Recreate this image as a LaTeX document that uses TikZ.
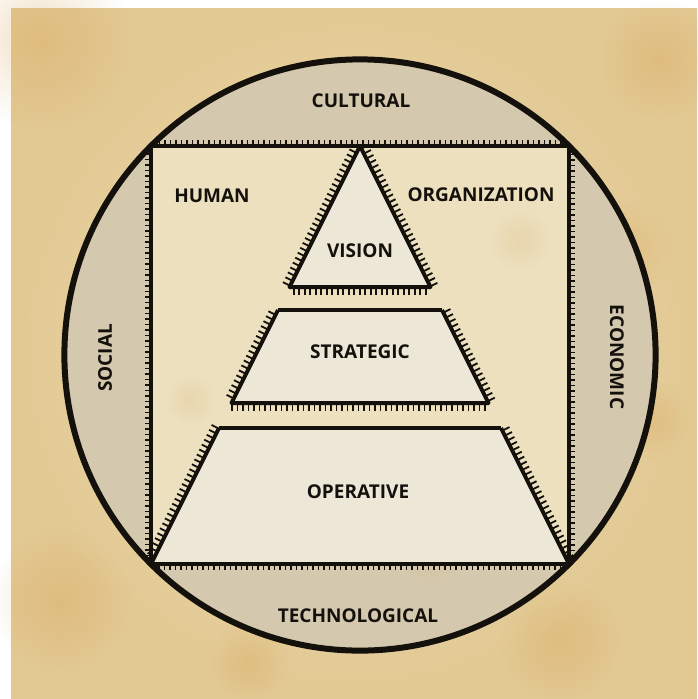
\documentclass[tikz,border=0pt]{standalone}
\usepackage{fontspec}
\setmainfont{Open Sans}
\usetikzlibrary{decorations.markings,fadings}

\definecolor{paper}{RGB}{233,214,168}
\definecolor{paperlight}{RGB}{238,226,192}
\definecolor{paperdark}{RGB}{226,200,146}
\definecolor{segment}{RGB}{212,201,174}
\definecolor{inner}{RGB}{236,224,190}
\definecolor{block}{RGB}{237,231,215}
\definecolor{stain}{RGB}{218,168,90}
\definecolor{ink}{RGB}{20,16,12}

\tikzfading[name=spot, inner color=transparent!65, outer color=transparent!100]

\tikzset{
  outline/.style={draw=ink, line width=4pt, line join=round},
  ticked/.style={postaction={decorate},
    decoration={markings,
      mark=between positions 3pt and 1 step 5.5pt with
        {\draw[ink, line width=1.8pt] (0,0) -- (0,#1);}}},
  ticked/.default=6pt,
  label/.style={font=\bfseries\fontsize{19}{21}\selectfont, text=ink, inner sep=0pt},
}

\begin{document}
\begin{tikzpicture}[x=1pt, y=-1pt]
  \useasboundingbox (0,0) rectangle (697,699);
  \fill[white] (0,0) rectangle (697,699);

  % parchment ground with a soft vignette and a few stains
  \shade[inner color=paperlight, outer color=paperdark] (11,8) rectangle (697,699);
  \foreach \x/\y/\r in {40/40/90, 660/60/60, 620/250/50, 560/640/60, 60/600/70,
                        250/660/40, 650/420/40, 120/300/35}
    \fill[stain, path fading=spot] (\x,\y) circle (\r);

  % circle of environments and the inner square
  \fill[segment] (360,355) circle (295.6);
  \fill[inner] (151,146) rectangle (569,564);
  \foreach \x/\y/\r in {520/240/30, 430/560/25, 190/400/25}
    \fill[stain, opacity=0.5, path fading=spot] (\x,\y) circle (\r);
  \draw[ink, line width=6pt] (360,355) circle (295.6);
  \draw[outline, line width=3.5pt, ticked=6pt]
    (151,146) -- (569,146) -- (569,564) -- (151,564) -- cycle;

  % pyramid levels
  \fill[block] (360,146) -- (430.5,287) -- (289.5,287) -- cycle;
  \fill[block] (278,310) -- (442,310) -- (488.5,403) -- (231.5,403) -- cycle;
  \fill[block] (219,428) -- (501,428) -- (569,564) -- (151,564) -- cycle;

  \draw[outline, ticked=8pt] (360,146) -- (430.5,287) -- (289.5,287) -- cycle;
  \draw[outline] (278,310) -- (442,310);
  \draw[outline, ticked=8pt] (442,310) -- (488.5,403) -- (231.5,403) -- (278,310);
  \draw[outline] (219,428) -- (501,428);
  \draw[outline, ticked=8pt] (501,428) -- (569,564);
  \draw[outline, ticked=8pt] (151,564) -- (219,428);
  \draw[outline] (151,564) -- (569,564);

  % labels
  \node[label] (cultural) at (361,101) {CULTURAL};
  \node[label] (technological) at (358,616) {TECHNOLOGICAL};
  \node[label, rotate=90] (social) at (105,358) {SOCIAL};
  \node[label, rotate=-90] (economic) at (617,357) {ECONOMIC};
  \node[label] (human) at (212,196) {HUMAN};
  \node[label] (organization) at (481,195) {ORGANIZATION};
  \node[label] (vision) at (360,251) {VISION};
  \node[label] (strategic) at (360,352) {STRATEGIC};
  \node[label] (operative) at (358,492) {OPERATIVE};
\end{tikzpicture}
\end{document}
